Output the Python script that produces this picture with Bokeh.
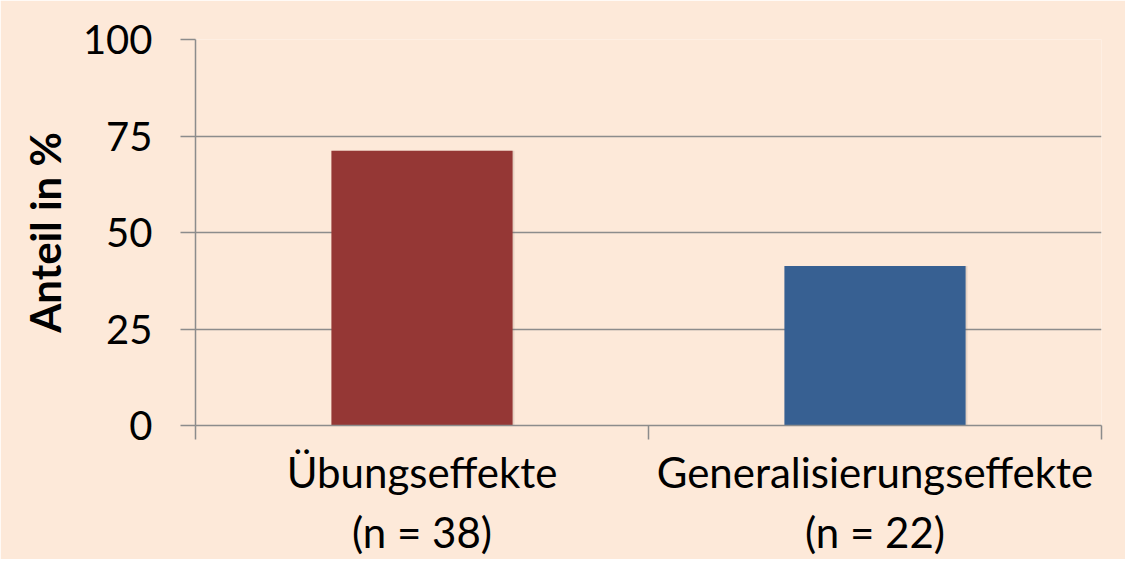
from bokeh.plotting import figure
from bokeh.models import FixedTicker, Range1d
from bokeh.transform import dodge
from bokeh.embed import file_html
from bokeh.resources import INLINE

categories = ["Übungseffekte", "Generalisierungseffekte"]
n_values = [38, 22]
shares = [71.2, 41.3]
bar_colors = ["#953735", "#376092"]
y_ticks = [0, 25, 50, 75, 100]

FONT = "Lato"
GRID = "#8c8c8c"
BG = "#fde9d9"

x_pos = [i + 0.5 for i in range(len(categories))]
labels = {x: f"{c}\n(n = {n})" for x, c, n in zip(x_pos, categories, n_values)}

p = figure(width=1125, height=559, output_backend="svg", toolbar_location=None,
           x_range=Range1d(0, len(categories)), y_range=Range1d(0, 100),
           min_border_left=195, min_border_right=24, min_border_top=39, min_border_bottom=120)
p.background_fill_color = BG
p.border_fill_color = BG
p.outline_line_color = None

src = dict(x=x_pos, top=shares, color=bar_colors)
# faint drop shadow
p.vbar(x=dodge("x", 0.004), top="top", bottom=-0.6, width=0.4, source=src,
       color="#7a6a60", alpha=0.18, line_color=None)
p.vbar(x="x", top="top", width=0.4, color="color", source=src, line_color=None)

# y axis
p.yaxis.ticker = FixedTicker(ticks=y_ticks)
p.yaxis.axis_label = "Anteil in %"
p.yaxis.axis_label_text_font = FONT
p.yaxis.axis_label_text_font_style = "bold"
p.yaxis.axis_label_text_font_size = "42px"
p.yaxis.axis_label_text_color = "black"
p.yaxis.axis_label_standoff = 10
p.yaxis.major_label_text_font = FONT
p.yaxis.major_label_text_font_size = "40px"
p.yaxis.major_label_text_color = "black"
p.yaxis.major_label_standoff = 28
p.yaxis.major_tick_out = 15
p.yaxis.major_tick_in = 0
p.yaxis.minor_tick_line_color = None
p.yaxis.axis_line_color = GRID
p.yaxis.major_tick_line_color = GRID
p.yaxis.axis_line_width = 1.5
p.yaxis.major_tick_line_width = 1.5

# x axis: labels at centers, ticks at boundaries
p.xaxis.ticker = FixedTicker(ticks=x_pos, minor_ticks=list(range(len(categories) + 1)))
p.xaxis.major_label_overrides = labels
p.xaxis.major_label_text_font = FONT
p.xaxis.major_label_text_font_size = "42px"
p.xaxis.major_label_text_color = "black"
p.xaxis.major_label_standoff = 7
p.xaxis.major_tick_line_color = None
p.xaxis.major_tick_out = 0
p.xaxis.minor_tick_out = 14
p.xaxis.minor_tick_in = 0
p.xaxis.minor_tick_line_color = GRID
p.xaxis.minor_tick_line_width = 1.5
p.xaxis.axis_line_color = GRID
p.xaxis.axis_line_width = 1.5

p.xgrid.grid_line_color = None
p.ygrid.grid_line_color = GRID
p.ygrid.grid_line_width = 1.5

open("out.html", "w").write(file_html(p, INLINE))
